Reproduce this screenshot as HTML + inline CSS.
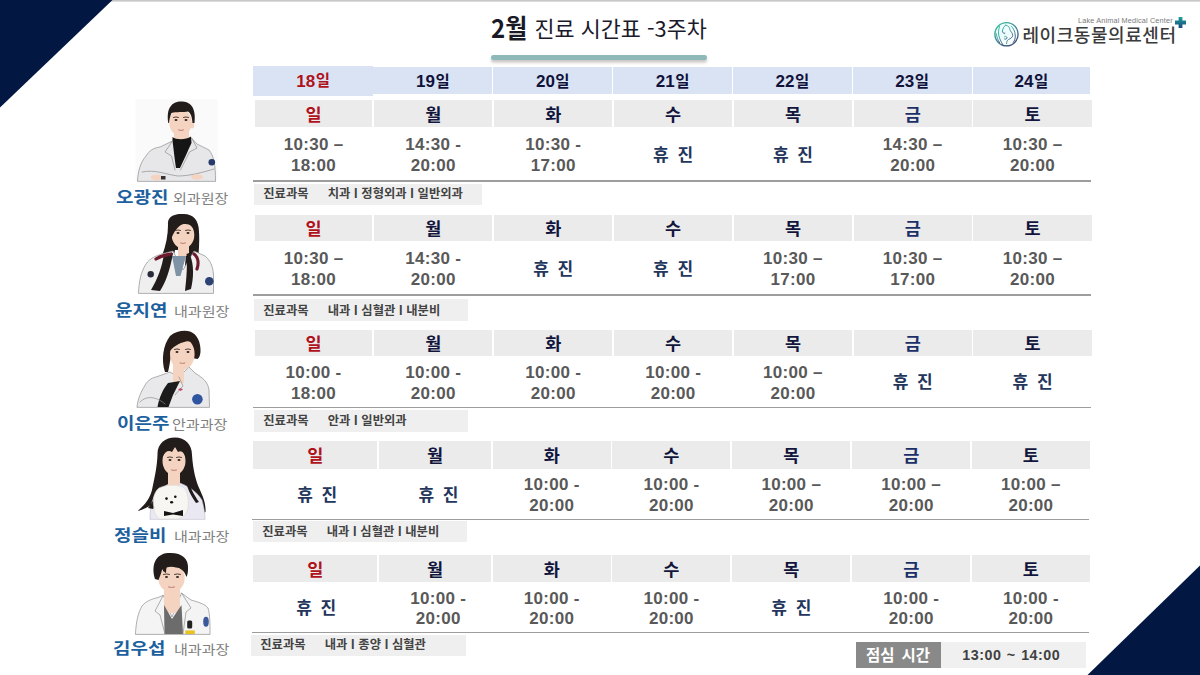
<!DOCTYPE html>
<html lang="ko"><head><meta charset="utf-8"><title>2월 진료 시간표 -3주차</title>
<style>
*{margin:0;padding:0;box-sizing:border-box}
html,body{width:1200px;height:675px;overflow:hidden;background:#fff}
body{position:relative;font-family:'Liberation Sans','Noto Sans CJK KR',sans-serif}
.a{position:absolute}
.c{position:absolute;display:flex;align-items:center;justify-content:center;white-space:nowrap}
.dt{background:#dae3f3;font-weight:bold;font-size:17px;color:#10123a;padding-top:1.5px}
.dt i{font-style:normal;font-family:'Noto Sans CJK KR','Liberation Sans',sans-serif;font-size:15.5px;margin-left:0.5px;position:relative;top:-2.5px}
.dy{background:#ebebeb;font-family:'Noto Sans CJK KR','Liberation Sans',sans-serif;font-weight:bold;font-size:17.5px;color:#12163d}
.red{color:#b0121b}
.tm{font-weight:bold;font-size:17px;color:#595959;line-height:20.8px;text-align:center;flex-direction:column;padding-top:4px;letter-spacing:0.3px}
.hj{font-family:'Noto Sans CJK KR','Liberation Sans',sans-serif;font-weight:bold;font-size:17px;color:#24365c;word-spacing:4px;padding-bottom:1.2px}
.blu{color:#1b3068}
.ln{position:absolute;height:1.2px;background:#9d9d9d}
.sb{position:absolute;background:#efefef;font-family:'Noto Sans CJK KR','Liberation Sans',sans-serif;font-weight:bold;font-size:12.3px;color:#434343;white-space:nowrap}
.sb span{position:absolute;top:-0.5px;line-height:var(--h)}
.nm{position:absolute;font-family:'Noto Sans CJK KR','Liberation Sans',sans-serif;font-weight:bold;font-size:18px;color:#1c609e;white-space:nowrap;line-height:1;transform:scale(1.055,0.89);transform-origin:0 0}
.ti{position:absolute;font-family:'Noto Sans CJK KR','Liberation Sans',sans-serif;font-size:14.5px;color:#808080;white-space:nowrap;line-height:1;transform:scale(1.04,0.9);transform-origin:0 0}
</style></head><body>

<div class="a" style="left:0;top:0;width:1200px;height:2px;background:linear-gradient(#bdbdbd,#e6e6e6)"></div>
<svg class="a" style="left:0;top:0" width="1200" height="675" viewBox="0 0 1200 675"><polygon points="0,0 112.5,0 0,107.5" fill="#021842"/><polygon points="1087.5,675 1200,675 1200,565.5" fill="#021842"/></svg>
<div class="a" style="left:491px;top:12px;white-space:nowrap;font-family:'Noto Sans CJK KR','Liberation Sans',sans-serif;font-size:24px;font-weight:bold;color:#1a1a26;line-height:32px;transform:scaleY(1.08);transform-origin:0 28px">2월</div>
<div class="a" style="left:534.5px;top:12.3px;white-space:nowrap;font-family:'Noto Sans CJK KR','Liberation Sans',sans-serif;font-size:21.8px;color:#1a1a2a;line-height:32px">진료 시간표 -3주차</div>
<div class="a" style="left:491px;top:55px;width:215.5px;height:4.6px;border-radius:2.3px;background:#8db9b9;box-shadow:0 2.5px 3px rgba(60,40,40,0.28)"></div>
<div class="c dt red" style="left:253px;top:66px;width:120.4px;height:29.5px;padding-top:1.5px">18<i>일</i></div>
<div class="c dt" style="left:373.4px;top:67px;width:119px;height:27.2px;padding-top:3.3px">19<i>일</i></div>
<div class="c dt" style="left:493.4px;top:67px;width:118.8px;height:27.2px;padding-top:3.3px">20<i>일</i></div>
<div class="c dt" style="left:613.2px;top:67px;width:118.8px;height:27.2px;padding-top:3.3px">21<i>일</i></div>
<div class="c dt" style="left:733px;top:67px;width:118.8px;height:27.2px;padding-top:3.3px">22<i>일</i></div>
<div class="c dt" style="left:852.8px;top:67px;width:118.8px;height:27.2px;padding-top:3.3px">23<i>일</i></div>
<div class="c dt" style="left:972.6px;top:67px;width:117.6px;height:27.2px;padding-top:3.3px">24<i>일</i></div>
<div class="c dy red" style="left:254.6px;top:100px;width:117.9px;height:26.5px">일</div>
<div class="c tm" style="left:254.6px;top:126.5px;width:117.9px;height:54.5px"><div>10:30 –</div><div>18:00</div></div>
<div class="c dy" style="left:374.3px;top:100px;width:118.1px;height:26.5px">월</div>
<div class="c tm" style="left:374.3px;top:126.5px;width:118.1px;height:54.5px"><div>14:30 -</div><div>20:00</div></div>
<div class="c dy" style="left:494.2px;top:100px;width:118.1px;height:26.5px">화</div>
<div class="c tm" style="left:494.2px;top:126.5px;width:118.1px;height:54.5px"><div>10:30 -</div><div>17:00</div></div>
<div class="c dy" style="left:614.1px;top:100px;width:118.1px;height:26.5px">수</div>
<div class="c hj" style="left:614.1px;top:126.5px;width:118.1px;height:54.5px">휴 진</div>
<div class="c dy" style="left:733.9px;top:100px;width:118.1px;height:26.5px">목</div>
<div class="c hj" style="left:733.9px;top:126.5px;width:118.1px;height:54.5px">휴 진</div>
<div class="c dy blu" style="left:853.6px;top:100px;width:118.2px;height:26.5px">금</div>
<div class="c tm" style="left:853.6px;top:126.5px;width:118.2px;height:54.5px"><div>14:30 –</div><div>20:00</div></div>
<div class="c dy" style="left:973.4px;top:100px;width:118.4px;height:26.5px">토</div>
<div class="c tm" style="left:973.4px;top:126.5px;width:118.4px;height:54.5px"><div>10:30 –</div><div>20:00</div></div>
<div class="ln" style="left:253.1px;top:180.4px;width:837.7px"></div>
<div class="sb" style="left:254px;top:183.5px;width:228px;height:21.5px;--h:21.5px"><span style="left:9.3px">진료과목</span><span style="left:73.8px">치과 I 정형외과 I 일반외과</span></div>
<div class="c dy red" style="left:254.6px;top:215px;width:117.9px;height:25.5px">일</div>
<div class="c tm" style="left:254.6px;top:240.5px;width:117.9px;height:54.5px"><div>10:30 –</div><div>18:00</div></div>
<div class="c dy" style="left:374.3px;top:215px;width:118.1px;height:25.5px">월</div>
<div class="c tm" style="left:374.3px;top:240.5px;width:118.1px;height:54.5px"><div>14:30 -</div><div>20:00</div></div>
<div class="c dy" style="left:494.2px;top:215px;width:118.1px;height:25.5px">화</div>
<div class="c hj" style="left:494.2px;top:240.5px;width:118.1px;height:54.5px">휴 진</div>
<div class="c dy" style="left:614.1px;top:215px;width:118.1px;height:25.5px">수</div>
<div class="c hj" style="left:614.1px;top:240.5px;width:118.1px;height:54.5px">휴 진</div>
<div class="c dy" style="left:733.9px;top:215px;width:118.1px;height:25.5px">목</div>
<div class="c tm" style="left:733.9px;top:240.5px;width:118.1px;height:54.5px"><div>10:30 –</div><div>17:00</div></div>
<div class="c dy blu" style="left:853.6px;top:215px;width:118.2px;height:25.5px">금</div>
<div class="c tm" style="left:853.6px;top:240.5px;width:118.2px;height:54.5px"><div>10:30 –</div><div>17:00</div></div>
<div class="c dy" style="left:973.4px;top:215px;width:118.4px;height:25.5px">토</div>
<div class="c tm" style="left:973.4px;top:240.5px;width:118.4px;height:54.5px"><div>10:30 –</div><div>20:00</div></div>
<div class="ln" style="left:253.1px;top:294.4px;width:837.7px"></div>
<div class="sb" style="left:254px;top:299px;width:213.5px;height:22px;--h:22px"><span style="left:9.3px">진료과목</span><span style="left:73.8px">내과 I 심혈관 I 내분비</span></div>
<div class="c dy red" style="left:254.6px;top:330px;width:117.9px;height:25.5px">일</div>
<div class="c tm" style="left:254.6px;top:355.5px;width:117.9px;height:52px"><div>10:00 -</div><div>18:00</div></div>
<div class="c dy" style="left:374.3px;top:330px;width:118.1px;height:25.5px">월</div>
<div class="c tm" style="left:374.3px;top:355.5px;width:118.1px;height:52px"><div>10:00 -</div><div>20:00</div></div>
<div class="c dy" style="left:494.2px;top:330px;width:118.1px;height:25.5px">화</div>
<div class="c tm" style="left:494.2px;top:355.5px;width:118.1px;height:52px"><div>10:00 -</div><div>20:00</div></div>
<div class="c dy" style="left:614.1px;top:330px;width:118.1px;height:25.5px">수</div>
<div class="c tm" style="left:614.1px;top:355.5px;width:118.1px;height:52px"><div>10:00 -</div><div>20:00</div></div>
<div class="c dy" style="left:733.9px;top:330px;width:118.1px;height:25.5px">목</div>
<div class="c tm" style="left:733.9px;top:355.5px;width:118.1px;height:52px"><div>10:00 –</div><div>20:00</div></div>
<div class="c dy blu" style="left:853.6px;top:330px;width:118.2px;height:25.5px">금</div>
<div class="c hj" style="left:853.6px;top:355.5px;width:118.2px;height:52px">휴 진</div>
<div class="c dy" style="left:973.4px;top:330px;width:118.4px;height:25.5px">토</div>
<div class="c hj" style="left:973.4px;top:355.5px;width:118.4px;height:52px">휴 진</div>
<div class="ln" style="left:253.1px;top:406.9px;width:837.7px"></div>
<div class="sb" style="left:254px;top:410px;width:213.5px;height:21.5px;--h:21.5px"><span style="left:9.3px">진료과목</span><span style="left:73.8px">안과 I 일반외과</span></div>
<div class="c dy red" style="left:253.2px;top:441px;width:124px;height:27.5px">일</div>
<div class="c hj" style="left:253.2px;top:468.5px;width:124px;height:50.8px;padding-left:4px">휴 진</div>
<div class="c dy" style="left:378.8px;top:441px;width:112.4px;height:27.5px">월</div>
<div class="c hj" style="left:378.8px;top:468.5px;width:112.4px;height:50.8px;padding-left:7px">휴 진</div>
<div class="c dy" style="left:492.8px;top:441px;width:117.8px;height:27.5px">화</div>
<div class="c tm" style="left:492.8px;top:468.5px;width:117.8px;height:50.8px"><div>10:00 -</div><div>20:00</div></div>
<div class="c dy" style="left:612.4px;top:441px;width:118px;height:27.5px">수</div>
<div class="c tm" style="left:612.4px;top:468.5px;width:118px;height:50.8px"><div>10:00 -</div><div>20:00</div></div>
<div class="c dy" style="left:732.2px;top:441px;width:118.2px;height:27.5px">목</div>
<div class="c tm" style="left:732.2px;top:468.5px;width:118.2px;height:50.8px"><div>10:00 –</div><div>20:00</div></div>
<div class="c dy blu" style="left:852.2px;top:441px;width:118px;height:27.5px">금</div>
<div class="c tm" style="left:852.2px;top:468.5px;width:118px;height:50.8px"><div>10:00 –</div><div>20:00</div></div>
<div class="c dy" style="left:972.2px;top:441px;width:117.4px;height:27.5px">토</div>
<div class="c tm" style="left:972.2px;top:468.5px;width:117.4px;height:50.8px"><div>10:00 –</div><div>20:00</div></div>
<div class="ln" style="left:251.7px;top:518.7px;width:836.9px"></div>
<div class="sb" style="left:253px;top:521px;width:213.5px;height:20.8px;--h:20.8px"><span style="left:9.3px">진료과목</span><span style="left:73.8px">내과 I 심혈관 I 내분비</span></div>
<div class="c dy red" style="left:253.2px;top:555.3px;width:124px;height:27px">일</div>
<div class="c hj" style="left:253.2px;top:582.3px;width:124px;height:50.3px;padding-left:2px">휴 진</div>
<div class="c dy" style="left:378.8px;top:555.3px;width:112.4px;height:27px">월</div>
<div class="c tm" style="left:378.8px;top:582.3px;width:112.4px;height:50.3px;padding-left:6.6px"><div>10:00 -</div><div>20:00</div></div>
<div class="c dy" style="left:492.8px;top:555.3px;width:117.8px;height:27px">화</div>
<div class="c tm" style="left:492.8px;top:582.3px;width:117.8px;height:50.3px"><div>10:00 -</div><div>20:00</div></div>
<div class="c dy" style="left:612.4px;top:555.3px;width:118px;height:27px">수</div>
<div class="c tm" style="left:612.4px;top:582.3px;width:118px;height:50.3px"><div>10:00 -</div><div>20:00</div></div>
<div class="c dy" style="left:732.2px;top:555.3px;width:118.2px;height:27px">목</div>
<div class="c hj" style="left:732.2px;top:582.3px;width:118.2px;height:50.3px">휴 진</div>
<div class="c dy blu" style="left:852.2px;top:555.3px;width:118px;height:27px">금</div>
<div class="c tm" style="left:852.2px;top:582.3px;width:118px;height:50.3px"><div>10:00 -</div><div>20:00</div></div>
<div class="c dy" style="left:972.2px;top:555.3px;width:117.4px;height:27px">토</div>
<div class="c tm" style="left:972.2px;top:582.3px;width:117.4px;height:50.3px"><div>10:00 -</div><div>20:00</div></div>
<div class="ln" style="left:251.7px;top:632px;width:836.9px"></div>
<div class="sb" style="left:251px;top:634.8px;width:214.5px;height:21.4px;--h:21.4px"><span style="left:9.3px">진료과목</span><span style="left:73.8px">내과 I 종양 I 심혈관</span></div>
<svg class="a" style="left:0;top:0" width="250" height="675" viewBox="0 0 250 675">
<g stroke-linejoin="round" stroke-linecap="round">
<!-- D1 -->
<rect x="135.5" y="99" width="82.3" height="81.4" fill="#fafafa"/>
<path d="M137.5,181 C138,172 140,163 146,156 C149,151 153,148 160,147 L172.5,141 L191,137.5 L197,144 L209,150 C214,156 215.5,165 215.5,181 Z" fill="#e7e7ea" stroke="#8e8e8e" stroke-width="0.7"/>
<rect x="174" y="127" width="15" height="13" fill="#f4d4c0"/>
<path d="M172.5,137 C176,140 186,140 191,136.5 L191.5,143 C188,150 185,158 180,168 L176,168 C174.5,158 173.5,148 172.5,141 Z" fill="#151515"/>
<path d="M172.5,141 L165,152 L171.5,156 L175,170 M191.5,138 L197,148 L189.5,152 L180.5,170 M142,172 C155,169 168,175 178,176 C190,176 204,172 214,169" fill="none" stroke="#8e8e8e" stroke-width="0.7"/>
<ellipse cx="157" cy="177.5" rx="6.5" ry="3" fill="#f4d4c0"/><ellipse cx="197" cy="177" rx="6" ry="2.8" fill="#f4d4c0"/>
<rect x="161" y="176" width="4.5" height="3.5" fill="#333"/>
<circle cx="211.8" cy="162.2" r="3.3" fill="#26396a"/>
<ellipse cx="180.5" cy="122.5" rx="11.3" ry="13.5" fill="#f4d4c0"/>
<ellipse cx="192.2" cy="125" rx="2" ry="3.5" fill="#f4d4c0"/>
<path d="M168.3,123 C166,108 172,101.5 181,101.5 C190,101.5 196.5,107 194.5,123 L192.5,123 C192,117 191,113.5 188,111.5 C184,112.5 176,111.5 171.5,113 C170,116.5 169.3,120 169,123 Z" fill="#221c1b"/>
<path d="M173.5,117.4 q2.5,-1 5,0 M183.5,117.4 q2.5,-1 5,0" stroke="#3a2a24" stroke-width="0.9" fill="none"/><ellipse cx="176.0" cy="120.0" rx="1.5" ry="0.9" fill="#2e2220"/><ellipse cx="186.0" cy="120.0" rx="1.5" ry="0.9" fill="#2e2220"/><path d="M178.5,130.0 q2.5,1 5,0" stroke="#c27b72" stroke-width="1" fill="none"/>
<!-- D2 -->
<path d="M168,225 C167,215 176,213.8 184,214 C193,214 199,220 199,232 C200,248 197.5,262 196.5,275 C195,283 191,288 187,290 L183,286 C184.5,270 186,258 186,250 L175,250 C173,262 168,272 161,280 C156,286 152,288 148,290 L146,285 C153,278 158,268 162,256 C166,245 168,235 168,225 Z" fill="#221c1b"/>
<path d="M138.5,293 C139,281 141,272 146,264 C150,258 156,256 161.5,254 L173,251 L183,270 L194,251 L205,256 C210,260 213,266 213.5,275 L213.5,293 Z" fill="#efefef" stroke="#8e8e8e" stroke-width="0.7"/>
<rect x="178" y="242" width="11" height="14" fill="#f4d4c0"/>
<path d="M172,256 L186,256 L180.5,276 L176,276 Z" fill="#7e93a6"/>
<path d="M164,254 C162,267 158,278 151,290 L160,291 C166,282 170,270 173,253 Z" fill="#221c1b"/>
<path d="M189,253 C194,262 194,276 191,289 L185,291 C186.5,278 187.5,266 186.5,254 Z" fill="#221c1b"/>
<path d="M156,259 C162,255 167,255 171,254 M194,254 C198,257 199,263 197,269" fill="none" stroke="#6e1a2c" stroke-width="3.2"/>
<circle cx="150.7" cy="274.2" r="3.2" fill="#2a2a3a"/>
<circle cx="209.3" cy="281.2" r="4.3" fill="#2b4275"/>
<ellipse cx="183" cy="235" rx="11.3" ry="13.5" fill="#f4d4c0"/>
<path d="M171,240 C169,225 175,218 183,218 C191,218 196,223 196,233 C193,226 189,223 182,224.5 C177,227 173,233 171,240 Z" fill="#221c1b"/>
<path d="M175.5,230.4 q2.5,-1 5,0 M185.5,230.4 q2.5,-1 5,0" stroke="#3a2a24" stroke-width="0.9" fill="none"/><ellipse cx="178.0" cy="233.0" rx="1.5" ry="0.9" fill="#2e2220"/><ellipse cx="188.0" cy="233.0" rx="1.5" ry="0.9" fill="#2e2220"/><path d="M180.5,243.0 q2.5,1 5,0" stroke="#c27b72" stroke-width="1" fill="none"/>
<!-- D3 -->
<path d="M137,407 C138,398 141,392 144,387 C147,381 151,378 156,377 L170,372 L179,377 L189,367 L195,373 C203,378 208,382 209,390 L209.5,407 Z" fill="#e9e9eb" stroke="#8e8e8e" stroke-width="0.7"/>
<path d="M165,372 C161,360 163,345 170,336 C176,331 184,330 190,331.5 C197,334 201,342 200.5,352 C200,356 199,358 197.5,359 L192,358 C187,350 178,348 171,355 C170,362 169,368 168,372 Z" fill="#271c18"/>
<rect x="173" y="363" width="11" height="20" fill="#f4d4c0"/>
<path d="M168,383 L180,381 L173,395 L168.5,407 L157.5,407 C159,398 163,389 168,383 Z" fill="#1b1b1b"/>
<path d="M140,402 C148,394 158,398 165,404 M179,377 L183,386 L175,395" fill="none" stroke="#8e8e8e" stroke-width="0.7"/>
<circle cx="197.4" cy="399.3" r="5.3" fill="#2f55a0"/>
<path d="M178,389.5 l2.5,-1.5 l2.5,1.5 l-2.5,1.5 z" fill="#c04a6a"/>
<ellipse cx="182.3" cy="354" rx="12.3" ry="16" fill="#f4d4c0"/>
<path d="M168,354 C166,341 175,333 184,333 C192,333 198.5,339 199,351 C196.5,344 191,340.5 186,341.5 C179,343 172,347 168,354 Z" fill="#271c18"/>
<path d="M174.5,349.4 q2.5,-1 5,0 M185.5,349.4 q2.5,-1 5,0" stroke="#3a2a24" stroke-width="0.9" fill="none"/><ellipse cx="177.0" cy="352.0" rx="1.5" ry="0.9" fill="#2e2220"/><ellipse cx="188.0" cy="352.0" rx="1.5" ry="0.9" fill="#2e2220"/><path d="M180.0,363.0 q2.5,1 5,0" stroke="#c27b72" stroke-width="1" fill="none"/>
<!-- D4 -->
<path d="M157.5,455 C157,444 165,437.5 175,437.5 C185,437.5 192,444 192,455 C193,470 196,482 200,490 C203,497 206,503 205.5,512 L200,514 C196,505 192,498 188,492 L162,492 C158,500 150,508 137.5,511 C145,505 150,498 152,490 C154,480 157,468 157.5,455 Z" fill="#221c1b"/>
<path d="M150,519 C150,503 154,494 160,489 L170,483 L180,483 C190,487 197,492 202,500 C204,507 205,513 205,519 Z" fill="#eae8f2" stroke="#b0aec0" stroke-width="0.5"/>
<rect x="168" y="470" width="12" height="15" fill="#f4d4c0"/>
<ellipse cx="174" cy="461" rx="11.5" ry="14" fill="#f4d4c0"/>
<path d="M162.5,457 C162,445 168,441 174,441 C181,441 186,445 186,457 C184,452 181,450 178,452 L175,447 L172,452 C169,450 165,451 162.5,457 Z" fill="#221c1b"/>
<path d="M161,474 C159,488 155,500 148,508 L153,509 C159,500 163,490 165,478 Z M187,474 C189,486 194,495 199,502 L196,503 C191,496 187,488 185,478 Z" fill="#221c1b"/>
<path d="M154,508 C152,500 154,492 159,488 C165,485 175,484 183,487 C188,491 189,500 188,508 C187,514 183,518 176,519 L160,519 C156,517 154,513 154,508 Z" fill="#f7f6f2" stroke="#d8d5cc" stroke-width="0.6"/>
<circle cx="166.5" cy="498.6" r="1.3" fill="#111"/><circle cx="175.3" cy="496.7" r="1.3" fill="#111"/><ellipse cx="171.6" cy="502.2" rx="1.6" ry="1.2" fill="#111"/>
<path d="M164,511 L173,513 L183,510 L183,516 L173,514.5 L164,516 Z" fill="#151515"/>
<path d="M167.5,457.4 q2.5,-1 5,0 M176.5,457.4 q2.5,-1 5,0" stroke="#3a2a24" stroke-width="0.9" fill="none"/><ellipse cx="170.0" cy="460.0" rx="1.5" ry="0.9" fill="#2e2220"/><ellipse cx="179.0" cy="460.0" rx="1.5" ry="0.9" fill="#2e2220"/><path d="M171.5,470.0 q2.5,1 5,0" stroke="#c27b72" stroke-width="1" fill="none"/>
<!-- D5 -->
<path d="M135.5,634 C136,622 138,613 142,606 C146,601 152,599 158,597.5 L163.3,595.3 L172,617 L181.5,593 L191,600 C198,602 205,604 208,608 C210,614 210,624 210,634 Z" fill="#f4f4f4" stroke="#8e8e8e" stroke-width="0.7"/>
<rect x="164" y="585" width="16" height="28" fill="#f4d4c0"/>
<path d="M164,605 L172,619 L181.5,605 L183,634 L164.5,634 Z" fill="#6c6c6c"/>
<path d="M163.3,595.3 L155,611 L160,615 L165,634 M181.5,593 L191,608 L186,612 L183,634" fill="none" stroke="#8e8e8e" stroke-width="0.7"/>
<rect x="187.2" y="620.5" width="5" height="8" rx="1.5" fill="#222"/>
<rect x="185.3" y="630.4" width="9.5" height="3.6" fill="#e8c21e"/>
<ellipse cx="206" cy="621.8" rx="2.8" ry="5" fill="#3b5a9a"/>
<ellipse cx="171.5" cy="578" rx="13.2" ry="14.5" fill="#f4d4c0"/>
<path d="M155,579 C151,566 155,554 168,553 C181,552 189,558 188,569 C188,572 187.5,575 186.5,577 C184.5,571 181,568 176,567.5 C171,566 166,567 162,570 C161,574 159.5,577 158.5,580 Z" fill="#221c1b"/>
<path d="M163,571 C163,565 166,561 170,560 C167,564 166,568 166,573 Z" fill="#221c1b"/>
<path d="M163.5,574.4 q3.0,-1 6,0 M174.5,574.4 q3.0,-1 6,0" stroke="#3a2a24" stroke-width="0.9" fill="none"/><ellipse cx="166.5" cy="577.0" rx="1.5" ry="0.9" fill="#2e2220"/><ellipse cx="177.5" cy="577.0" rx="1.5" ry="0.9" fill="#2e2220"/><path d="M168.5,587.0 q3.0,1 6,0" stroke="#c27b72" stroke-width="1" fill="none"/>
</g></svg>
<div class="nm" style="left:116.4px;top:187.7px">오광진</div>
<div class="ti" style="left:173.1px;top:191.1px">외과원장</div>
<div class="nm" style="left:114.5px;top:300.5px">윤지연</div>
<div class="ti" style="left:174.1px;top:303.9px">내과원장</div>
<div class="nm" style="left:117.3px;top:413.5px">이은주</div>
<div class="ti" style="left:171.7px;top:416.9px">안과과장</div>
<div class="nm" style="left:113.6px;top:525.5px">정슬비</div>
<div class="ti" style="left:174.1px;top:528.9px">내과과장</div>
<div class="nm" style="left:112.8px;top:638.5px">김우섭</div>
<div class="ti" style="left:174.1px;top:641.9px">내과과장</div>
<div class="c" style="left:855.5px;top:641.5px;width:85px;height:26.3px;background:#898989;color:#fff;font-family:'Noto Sans CJK KR','Liberation Sans',sans-serif;font-weight:bold;font-size:15.5px;word-spacing:2.5px;padding-bottom:1px">점심 시간</div>
<div class="c" style="left:940.5px;top:641.5px;width:145.5px;height:26.3px;background:#f0f0f0;color:#404040;font-weight:bold;font-size:14.3px;letter-spacing:0.5px;word-spacing:1px;padding-right:4px">13:00 ~ 14:00</div>
<svg class="a" style="left:990px;top:18px" width="32" height="32" viewBox="0 0 32 32">
<defs><linearGradient id="lg" x1="0.15" y1="0.1" x2="0.85" y2="0.95"><stop offset="0" stop-color="#35b89c"/><stop offset="0.5" stop-color="#4a8a9a"/><stop offset="1" stop-color="#3a4f78"/></linearGradient>
<radialGradient id="lf" cx="0.3" cy="0.4" r="0.7"><stop offset="0" stop-color="#e4fbfb"/><stop offset="1" stop-color="#ffffff"/></radialGradient></defs>
<circle cx="16.5" cy="16.2" r="11.6" fill="url(#lf)" stroke="url(#lg)" stroke-width="1.4"/>
<g fill="none" stroke="url(#lg)" stroke-width="0.95" stroke-linecap="round">
<path d="M9.5,8.5 C8.3,12 8.0,16 9.5,20 C10.5,23 12,25.5 13.3,27.5"/>
<path d="M6.2,15.6 C6.8,19 7.8,22 9.5,24.6"/>
<path d="M15.6,7.1 C18.5,7.5 19.9,9.5 19.9,11.8 C20.5,13.5 22.5,14.5 22.7,17.5 C22.5,19.5 20.5,20.5 18.5,21.5 C17,22.3 16.6,24 16.6,25.6"/>
<path d="M15.6,7.1 C14,8.5 12.8,10.5 12.4,13 C12.3,14.5 13.5,15.6 14.8,15.3"/>
<path d="M14.2,19 C15,17.8 16.5,18 17,19.8 C16.9,21 15.5,21.5 14.5,21"/>
<path d="M21.3,8 C23.5,10.5 25,13.5 25.2,17 C25.5,20 24.8,22.5 23.2,24.5"/>
</g></svg>
<div class="a" style="left:1022.5px;top:22.3px;font-family:'Noto Sans CJK KR',sans-serif;font-weight:500;font-size:18px;letter-spacing:0.55px;color:#3b3b3b;line-height:24px;white-space:nowrap">레이크동물의료센터</div>
<div class="a" style="left:1078px;top:16px;font-family:'Liberation Sans',sans-serif;font-size:7.3px;color:#7a7a7a;line-height:10px;white-space:nowrap;letter-spacing:0.15px">Lake Animal Medical Center</div>
<svg class="a" style="left:1175px;top:16.5px" width="11" height="11" viewBox="0 0 11 11"><defs><linearGradient id="pg" x1="0" y1="0" x2="0" y2="1"><stop offset="0" stop-color="#1aa39a"/><stop offset="1" stop-color="#1e4680"/></linearGradient></defs><path d="M3.6,0h3.8v3.6h3.6v3.8h-3.6v3.6h-3.8v-3.6h-3.6v-3.8h3.6z" fill="url(#pg)"/></svg>
</body></html>
